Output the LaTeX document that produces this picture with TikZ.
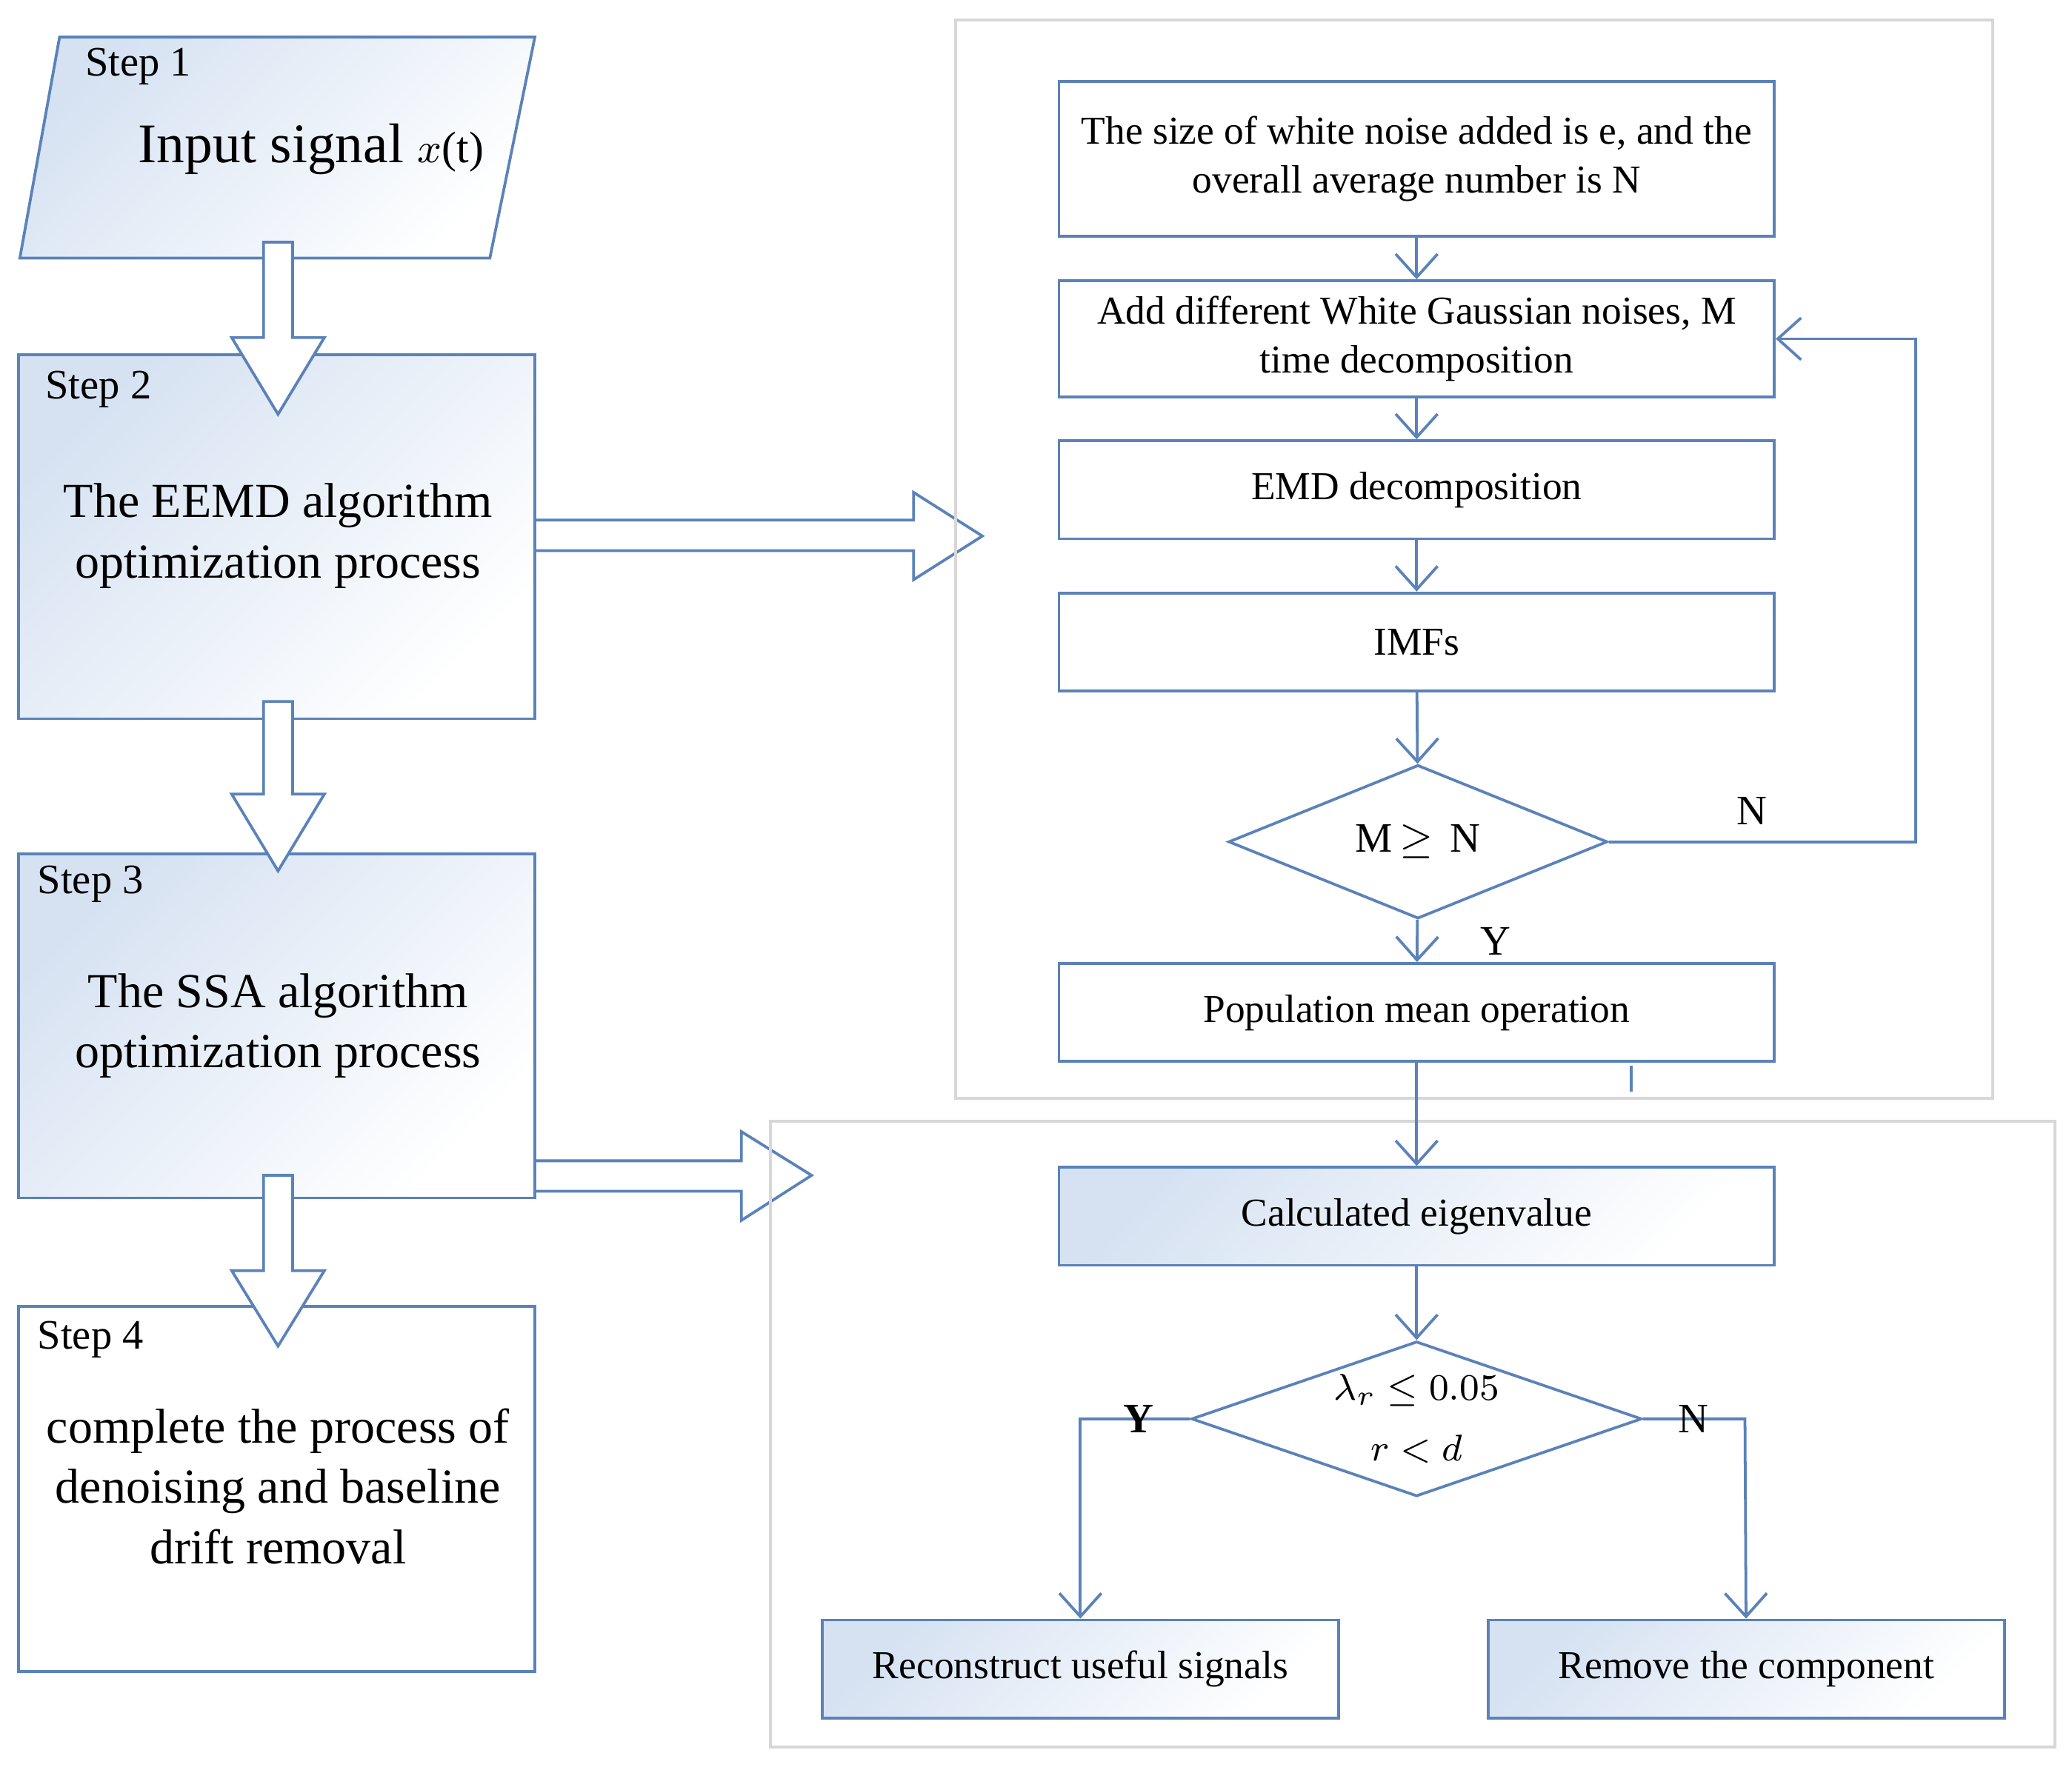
\documentclass[tikz,border=0pt]{standalone}
\usepackage{fontspec}
\setmainfont{Liberation Serif}
\usetikzlibrary{arrows.meta}
\usetikzlibrary{shapes.geometric}

\definecolor{lineblue}{RGB}{91,130,185}
\definecolor{fillblue}{RGB}{214,226,242}
\definecolor{framegray}{RGB}{215,215,215}

\begin{document}
\begin{tikzpicture}[x=0.01cm, y=-0.01cm]
\tikzset{
   >={Straight Barb[length=5pt,width=9pt]},
   line/.style = {draw = lineblue, line width = 0.6pt},
   step_box/.style = {line, left color = fillblue, right color = white, shading angle = 45},
   box/.style = {line, rectangle, minimum width = 5.4cm, minimum height = 0.74cm, align = center, font = \fontsize{8.5}{10.5}\selectfont},
   box_shaded/.style = {box, left color = fillblue, right color = white, shading angle = 45},
   decision/.style = {line, diamond, aspect = 2.5, inner sep = 0pt, font = \fontsize{9}{11}\selectfont},
   hollow/.style = {line, fill = white},
   frame/.style = {draw = framegray, line width = 0.6pt},
   steptext/.style = {font = \fontsize{9}{11}\selectfont, anchor = west},
   big/.style = {align = center, font = \fontsize{10.5}{13}\selectfont},
   tag/.style = {font = \fontsize{9}{11}\selectfont}
 }
  \useasboundingbox (0,0) rectangle (1565,1337);

  % left column
  \draw [step_box] (15,195) -- (45,28) -- (404,28) -- (370,195) -- cycle;
  \node [steptext] (s1) at (52,50) {Step 1};
  \node [font = \fontsize{12}{14}\selectfont] (input) at (235,113) {Input signal \fontsize{9.5}{11}\selectfont$x$(t)};

  \draw [step_box] (14,268) rectangle (404,543);
  \node [steptext] (s2) at (22,294) {Step 2};
  \node [big] (eemd) at (210,405) {The EEMD algorithm\\optimization process};

  \draw [step_box] (14,645) rectangle (404,905);
  \node [steptext] (s3) at (16,668) {Step 3};
  \node [big] (ssa) at (210,775) {The SSA algorithm\\optimization process};

  \draw [line, fill = white] (14,987) rectangle (404,1263);
  \node [steptext] (s4) at (16,1012) {Step 4};
  \node [big] (done) at (210,1123) {complete the process of\\denoising and baseline\\drift removal};

  % hollow arrows
  \draw [hollow] (199,183) -- (221,183) -- (221,255) -- (245,255) -- (210,313) -- (175,255) -- (199,255) -- cycle;
  \draw [hollow] (199,530) -- (221,530) -- (221,600) -- (245,600) -- (210,658) -- (175,600) -- (199,600) -- cycle;
  \draw [hollow] (199,888) -- (221,888) -- (221,960) -- (245,960) -- (210,1017) -- (175,960) -- (199,960) -- cycle;
  \draw [hollow] (404,393) -- (690,393) -- (690,372) -- (742,405) -- (690,438) -- (690,416) -- (404,416) -- cycle;
  \draw [hollow] (404,877) -- (560,877) -- (560,855) -- (613,888) -- (560,922) -- (560,900) -- (404,900) -- cycle;

  % frames
  \draw [frame] (722,15) rectangle (1505,830);
  \draw [frame] (582,847) rectangle (1552,1320);

  % EEMD flow
  \node [box, minimum height = 1.17cm] (noise) at (1070,120) {The size of white noise added is e, and the\\overall average number is N};
  \node [box] (add) at (1070,256) {Add different White Gaussian noises, M\\time decomposition};
  \node [box] (emd) at (1070,370) {EMD decomposition};
  \node [box] (imfs) at (1070,485) {IMFs};
  \node [decision, minimum width = 2.86cm, minimum height = 1.16cm] (check) at (1071,636) {M\,$\geq$\, N};
  \node [box] (mean) at (1070,765) {Population mean operation};
  \draw [line] (1232,805) -- (1232,825);

  % SSA flow
  \node [box_shaded] (eigen) at (1070,919) {Calculated eigenvalue};
  \node [decision, minimum width = 3.4cm, minimum height = 1.16cm, align = center, font = \fontsize{8}{10}\selectfont] (lambda) at (1070,1072) {$\lambda_r \leq 0.05$\\[3pt]$r<d$};
  \node [box_shaded, minimum width = 3.9cm] (recon) at (816,1261) {Reconstruct useful signals};
  \node [box_shaded, minimum width = 3.9cm] (remove) at (1319,1261) {Remove the component};

  \draw [line, ->] (noise) -- (add);
  \draw [line, ->] (add) -- (emd);
  \draw [line, ->] (emd) -- (imfs);
  \draw [line, ->] (imfs) -- (check);
  \draw [line, ->] (check) -- node [tag, right, xshift = 0.35cm] {Y} (mean);
  \draw [line, ->] (check.east) -- node [tag, above, near start, xshift = 0.5cm] {N} (1447,636) -- (1447,256) -- (add.east);
  \draw [line, ->] (mean) -- (eigen);
  \draw [line, ->] (eigen) -- (lambda);
  \draw [line, ->] (lambda.west) -- (816,1072) node [tag, font = \bfseries\fontsize{9}{11}\selectfont, right, xshift = 0.2cm] {Y} -- (recon);
  \draw [line, ->] (lambda.east) -- (1318,1072) node [tag, left, xshift = -0.15cm] {N} -- (remove);
\end{tikzpicture}
\end{document}
